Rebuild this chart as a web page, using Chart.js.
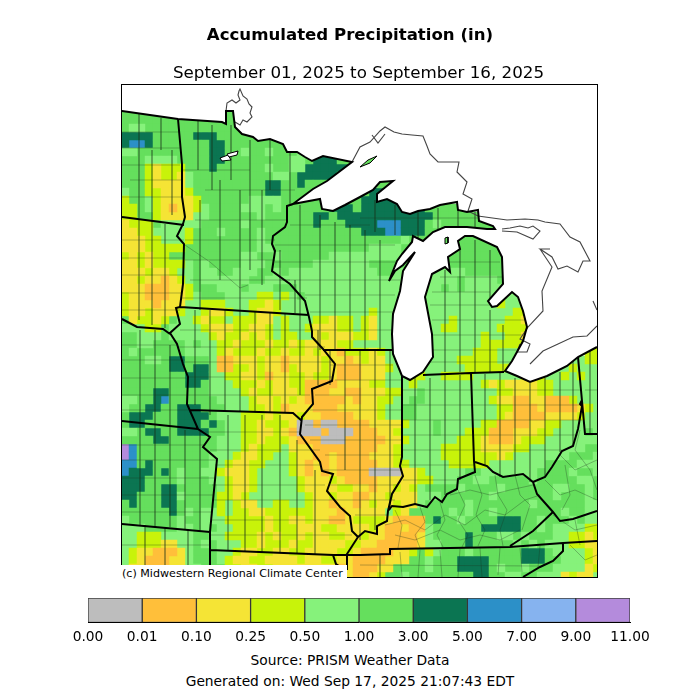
<!DOCTYPE html>
<html>
<head>
<meta charset="utf-8">
<title>Accumulated Precipitation (in)</title>
<script src="https://cdn.jsdelivr.net/npm/chart.js@4/dist/chart.umd.min.js"></script>
<style>
  html, body { margin: 0; padding: 0; background: #fff; }
  #page { position: relative; width: 700px; height: 700px; overflow: hidden; font-family: "DejaVu Sans", sans-serif; color: #000; }
  canvas { position: absolute; left: 0; }
  .txt { position: absolute; white-space: nowrap; line-height: 1; text-align: center; }
</style>
</head>
<body>
<div id="page">
  <canvas id="mapChart" width="700" height="590" style="top:0"></canvas>
  <canvas id="barChart" width="700" height="60" style="top:590px"></canvas>
  <div class="txt" style="left:0;width:700px;top:27px;font-size:16.6px;font-weight:bold">Accumulated Precipitation (in)</div>
  <div class="txt" style="left:0;width:717px;top:64px;font-size:16.7px">September 01, 2025 to September 16, 2025</div>
  <div class="txt" style="left:121px;top:565px;height:15px;width:225px;padding-left:1px;background:#fff;font-size:11.1px;line-height:17px;text-align:left">(c) Midwestern Regional Climate Center</div>
  <div class="txt" style="left:0;width:700px;top:654px;font-size:13.8px">Source: PRISM Weather Data</div>
  <div class="txt" style="left:0;width:700px;top:675px;font-size:13.8px">Generated on: Wed Sep 17, 2025 21:07:43 EDT</div>
</div>
<script>
// Colour bar classes (inches)
const TICK_LABELS = ['0.00', '0.01', '0.10', '0.25', '0.50', '1.00', '3.00', '5.00', '7.00', '9.00', '11.00'];
const CLASS_COLORS = ['#bdbdbd', '#ffbf3a', '#f5e435', '#c8f30a', '#86f27b', '#65df5d', '#0b7552', '#2c90c8', '#86b3ef', '#b48bdc'];
const CLASS_KEYS = ['g', 'o', 'y', 'l', 'a', 'b', 'd', 'u', 's', 'p'];
const CLASS_BINS = [1, 1, 1, 1, 1, 1, 1, 1, 1, 1];

// Precipitation class per map cell. One row every 8 map units.
const CELL_ROWS = [
  ".......... .......... .......... .......... .......... ..........",
  ".......... .......... .......... .......... .......... ..........",
  ".......... .......... .......... .......... .......... ..........",
  "bbbbbbbbbb bbbbbbbbbb .......... .......... .......... ..........",
  "bbbbbbbbbb bbbbbbbbbb bb........ .......... .......... ..........",
  "baabbbbbbb bbbbbbbbbb bbbb...... .......... .......... ..........",
  "ddddbbbbbd ddbbbbbbbb bbbbbb.... .......... .......... ..........",
  "duudbbbbbb bddbbbbbbb bbbbbbbb.. .......... .......... ..........",
  "aabbbbbbbb bddbbabbab bbabbbbbbb b......... .......... ..........",
  "bbbaaaabbb bddbbbbbbb baabdddbbb .......... .......... ..........",
  "bbblylllbb bdbbbbbbab baaddddddb .......... .......... ..........",
  "bbblyllyab bbbbbbbbba abdddddbbb .......... .......... ..........",
  "bbblyyyyab bbbbbbbbdd bbdbbbbbbb ..bbbb.... .......... ..........",
  "abbllyyylb bbbbbbbbdd bbbbbbbbbb bddbb..... .......... ..........",
  "lbbalyyyyl bbbbbbaaaa bbbbbbbbbb dddddddddd .......... ..........",
  "llbalyoyyl abbbbaaaba bbbbbbdddb ddddddddbb bbbb...... ..........",
  "llbblyyyya abbbbbbabb bbbbddbddd dddddddddb bbbbbbbbbb bbb.......",
  "ylllbaaaaa bbbbbabbbb bbbbdbbbdd dduuudddba bbbbbbbbbb bbb.......",
  "yyllaaaalb bbabbbbabb bbbbbbbbbb ddduudddbb bbbbbbbbbb ..........",
  "yyyllaaalb bbbbbbbabb bbbbbbbbbb bbbbbabbbb bbbbbbbbbb ..........",
  "yyylllllbb bbbbbbbaab bbbbbbbbbb baaaabbbbb bbbbbbbbbb ..........",
  "lylyllbbbb bbbbbaabba bbbbbbaaaa aaaaabbbaa abbbbbbbbb b.........",
  "yylyllllab abbbbaaabb bbbbaaaaaa abbbbbbbaa abbbbbbbbb b.........",
  "yyylyylaab aabbaaabba baaaaaaaaa aabbaaaaaa aaabbbbbbb b.........",
  "yylyyoylab aaaaaabbaa aaaaaaaaaa aaaaaaaaaa aabaaaabaa a.........",
  "yyyoooyylb bbaaabaaab bbaaaaaaaa aaaaaaaaaa babaaaaaaa aa........",
  "lyyoooyyla bbbaaaalla labaaaaaaa aaaaalaaaa aaaaaaaaaa aa........",
  "lyyyoyyyaa lllaaallyl aaaaaaaaaa aaaaaaaaaa aaaaaaalaa aaa.......",
  "lyylyyylaa lyylaalyyl aaaaaaaaaa alaaaaaaaa aaaaaaaaal la........",
  "byllylbaal yllalllyya laaallylla lyaaaaaaaa alaaaaaall yll.......",
  "aaallbaaaa lyyyllyyla laalyyylla lyaaaaaaaa llaaaaalll ll........",
  "bbaaabaaaa alyllylyla llaaylyyyl lyaaaaaaaa aaaaalaall yl........",
  "bbaabbbbab aallylllyl lylyyyylla aaaaaaaaaa aaaaalllll lll.......",
  "babbbbbbaa aalylllyll yllylyyoll lylaa...aa aaaalllaaa l.......ll",
  "bbbaabddbb baooyyylyy oyyyylyyoy lyyaabaaaa aalllllaaa aaaaaaaall",
  "bbbbbbddbd daoollylyy olyyylyooo yyylaaaaaa aaalllllla aaaaaalaaa",
  "bbbbbbbbdd daallyyloy yllyllyooo yyyaaallaa llllaaaaaa lalaalalaa",
  "bbbbbbbbdd baaalllyly yllooooyyy yllaaalaaa aaaaalylyy yyllaaaaaa",
  "bbbbddbbbb baaaalylly yyloooyyoo yyyllaabaa aaaaaaally yyllaaaaaa",
  "aabbdubbbb bbaaaalyyl ylyoooooyo yyllaabbaa aaaaaalyyo oyyooolaaa",
  "abbddbbddd bbbaaallyl oyyyoooyyy yylaabbaaa aaaaaaallo ooyooooyla",
  "bdddbbbddd dbaaalllyl yylyyooooy yylaabbaaa aaaaaaalyo oooyyyylaa",
  "bddbbbbddd bdbaallyll lyggoggooo oyyyylaaab aaaaallooo oyyllaaaaa",
  "aabddbbddd dbbaallyyl yogggogggo ooyylaaaab aaallloooy yyllaaaaba",
  "bbbbddbbbb bbaaallyll lyooogggoo oooyylaaaa aalllyoooy lllaaaaaaa",
  "pubbbbbbbb bbaaalylll ayyyoooooo ooyylaaaaa lllllyyyyl laaaaaaabb",
  "pubbbbbbbb baaalyylla alyyooyooo oyyylaaaaa lllllllyla aaaaaabbba",
  "uubdbbbbbb baalyyllaa alyoyoyooo ooyyllaaaa alllllaaaa aaabbbbaaa",
  "udddbdbabb aalyyylaaa alyoyoyooo oggggyylaa aaabbaaaaa aabbbbabba",
  "dddbbbbabb baalyylaaa aalyyylyoo ooyyyyylla aabbaabbbb babbbbbaab",
  "dddbbddbbb bbalyylaaa aalyyyylly yoyylylabb bbabbbbabb bbbbaabbab",
  "ddbbbddabb bbllylaaaa aaalyylyyo oyylyyyaaa bbbbbbabbb bbbbabbbab",
  "bdbbbddbbb bblalyyaal laalyyoyyo ylyylyyabb bbbabbbbbb babbbbbbaa",
  "bbbbbbdbab aalallyyll llllyyyoyy yyyalybbbb bababbabbb bbbbbabbaa",
  "abbbbbbabb aaalllllyl lyylyyooyl lllyoooobd bbabbbbddd bbabbbabaa",
  "aaabbbbaab abaallllyl llyyyllyyy ylyooyooab bbbbbddddd bbabaaaall",
  "aalllaaaab baallllyly llylyyllyy lyyooooyab bbbdbbbaab abbbaallyl",
  "aalllyyaab abaaallyll lyllyyyyll yyoooooyaa bbbdbbbbba babaaallyy",
  "alyyoooyab bbaalyylly yllyyyylly ooooyylbla bbbabbbbbb dddbaaaaly",
  "alyoooyyab bbalyyllyy yylyyllyyo oooyyybbab bbddddbbbb dddbbaaaly",
  "ayyoooyyaa bbbllyylly yyyyyyyoyo ooyybbbbab bbddddbabb abbbaaaayl",
  "ayyoooyyaa bbbllyylly yyyyyyyoyo oylbbabbbb bbbbddbbaa bbaaaylyya"
];

// Shoreline of the Great Lakes and the Canadian border, in map units
const COAST = [[597,347],[578,357],[567,366],[547,376],[530,382],[517,376],[505,371],[512,361],[523,341],[527,327],[523,311],[518,297],[512,292],[497,306],[492,307],[488,301],[503,284],[502,257],[497,247],[473,236],[465,236],[458,241],[460,249],[448,257],[450,272],[445,267],[432,274],[425,297],[432,334],[433,357],[423,372],[410,380],[402,376],[393,354],[392,334],[393,314],[400,291],[403,271],[415,252],[403,265],[395,271],[389,281],[397,261],[402,254],[412,242],[413,236],[423,241],[433,232],[445,227],[467,227],[487,229],[495,229],[493,226],[479,221],[478,210],[467,212],[458,210],[457,202],[440,205],[430,209],[418,211],[410,214],[402,212],[397,204],[387,199],[377,202],[377,194],[393,181],[380,182],[373,190],[360,197],[345,205],[333,211],[322,209],[320,199],[293,204],[313,189],[327,181],[352,162],[323,156],[312,161],[305,157],[297,152],[287,152],[283,144],[270,139],[258,141],[253,137],[242,134],[235,127],[233,111],[226,111],[226,124],[222,122],[178,119],[122,111],[121,111]];
const OUTSIDE_CORNERS = [[121,84],[597,84]];

const STATE_LINES = [
  [[178,119],[182,164],[182,197],[185,217],[183,224],[177,236],[184,244],[183,284],[180,307],[176,308],[180,324],[170,333],[177,344],[183,364],[188,377],[187,404],[198,429],[210,437],[203,447],[217,459],[210,532],[210,577]],
  [[122,217],[184,225]],
  [[122,319],[137,327],[163,329],[170,334]],
  [[180,307],[309,315]],
  [[293,204],[287,206],[287,222],[285,227],[273,236],[272,244],[275,251],[272,271],[290,284],[305,301],[309,317],[312,331],[312,337],[323,349],[335,364],[332,381],[312,389],[313,404],[302,417],[300,434],[320,462],[322,471],[333,474],[327,491],[340,507],[350,516],[352,531],[358,537],[347,554],[347,570]],
  [[122,421],[198,429]],
  [[190,410],[293,413],[302,421]],
  [[122,524],[210,532]],
  [[210,550],[333,555],[336,564],[345,570]],
  [[323,350],[393,350]],
  [[402,376],[402,457],[400,466],[403,476],[392,494],[388,511],[387,521],[377,526],[377,534],[365,531],[358,537]],
  [[423,375],[471,373],[504,372]],
  [[471,373],[474,461],[475,472],[458,479],[457,489],[447,494],[442,502],[435,497],[427,507],[415,504],[403,507],[392,506],[388,511]],
  [[475,462],[487,466],[493,472],[503,477],[523,474],[533,482],[545,477],[552,467],[562,451],[573,446],[578,429],[582,406],[580,404],[582,400]],
  [[578,357],[585,434],[597,434]],
  [[533,482],[537,494],[553,512],[560,521],[573,519],[597,511]],
  [[553,512],[533,531],[510,546]],
  [[360,555],[390,554],[390,549],[510,547],[563,543],[597,541]],
  [[563,543],[563,551],[553,561],[540,567],[523,577]],
  [[333,555],[360,555]]
];

const CANADA_LINES = [
  [[226,111],[227,103],[232,100],[236,103],[240,100],[238,95],[239,91],[240,89],[243,96],[247,99],[249,104],[252,107],[250,113],[252,117],[247,122],[243,120],[240,125],[235,122]],
  [[352,162],[360,147],[370,142],[380,131],[385,127],[394,132],[402,134],[412,135],[423,136],[427,146],[430,154],[438,162],[459,162],[457,172],[467,182],[463,194],[472,199],[468,211],[478,216],[507,220],[525,219],[538,220],[545,222],[560,224],[570,237],[580,242],[590,261],[583,261],[578,272],[567,266],[558,269],[552,257],[540,249],[550,249]],
  [[540,249],[552,267],[542,291],[543,311],[528,327],[520,339],[530,344],[527,352],[517,352],[520,344]],
  [[530,364],[543,351],[573,337],[587,336],[597,326]],
  [[593,301],[597,310]],
  [[502,229],[510,228],[520,226],[528,228],[533,226],[540,231],[533,239],[517,232],[502,231]],
  [[372,135],[378,143],[385,134]]
];

const LAKE_SHAPES = [
  [[227,154],[238,151],[237,155],[229,157]],
  [[220,158],[228,155],[231,160],[222,161]]
];
const ISLAND_SHAPES = [
  [[360,167],[368,160],[377,156],[370,163]],
  [[445,238],[448,237],[448,243],[445,244]]
];

// County lines
const COUNTY_LINES = [
  // Dakotas
  [139,113,139,218],[161,118,161,150],[152,150,152,325],[172,150,172,215],[139,219,139,320],[165,224,165,328],
  [122,132,180,132],[122,148,180,148],[122,165,180,165],[130,180,182,180],[122,197,182,197],
  [122,240,184,240],[122,258,184,258],[122,275,184,275],[122,293,182,293],[122,310,180,310],
  // Minnesota
  [198,120,198,170],[212,125,212,190],[231,125,231,180],[250,140,250,270],[270,140,270,190],[290,140,290,204],[220,180,220,280],[200,200,200,310],[240,190,240,310],[262,190,262,285],[280,250,280,310],[295,280,295,313],
  [183,170,250,170],[205,190,295,190],[195,220,287,220],[185,240,275,240],[185,260,275,260],[190,280,290,280],[182,298,307,298],
  [185,245,210,262,240,288,248,285],
  // Wisconsin and Upper Michigan
  [300,205,300,315],[320,215,320,350],[335,222,335,350],[350,225,350,350],[365,230,365,350],[380,240,380,350],
  [290,225,370,225],[275,245,395,245],[275,262,395,262],[280,280,400,280],[305,295,395,295],[310,312,395,312],[312,330,393,330],
  [375,200,375,232],[395,205,395,235],[418,210,418,240],[438,208,438,232],[458,205,458,228],[475,212,475,228],[360,218,480,218],
  // Lower Michigan
  [445,270,445,372],[460,250,460,372],[475,240,475,373],[490,250,490,300],[490,310,490,372],[503,325,503,372],
  [450,262,500,262],[440,277,503,277],[432,292,490,292],[430,305,495,305],[432,320,525,320],[433,335,525,335],[433,350,520,350],[430,362,510,362],
  // Iowa
  [195,310,195,405],[210,310,210,415],[225,310,225,412],[240,311,240,412],[255,312,255,412],[270,313,270,412],[285,313,285,413],[300,314,300,395],[318,330,318,385],
  [180,330,312,330],[178,347,325,347],[185,362,335,362],[188,377,332,377],[187,395,310,395],
  // Nebraska, Kansas, Oklahoma
  [140,330,140,420],[155,330,155,425],[170,345,170,425],[122,345,178,345],[122,360,185,360],[122,378,187,378],[122,395,188,395],[122,410,188,410],
  [140,420,140,525],[155,425,155,527],[170,427,170,527],[185,430,185,530],[200,430,200,530],[122,445,205,445],[122,460,217,460],[122,478,215,478],[122,495,214,495],[122,512,213,512],
  [145,525,145,565],[165,528,165,565],[188,530,188,565],[122,545,210,545],
  // Missouri
  [228,415,228,550],[245,415,245,552],[262,415,262,552],[280,415,280,552],[297,440,297,553],[315,470,315,555],
  [205,432,300,432],[210,450,320,450],[215,465,320,465],[212,485,325,485],[212,500,340,500],[212,520,345,520],[210,535,352,535],
  // Illinois
  [330,350,330,385],[345,350,345,470],[360,350,360,540],[375,350,375,530],[390,350,390,510],
  [330,365,393,365],[335,380,402,380],[315,395,402,395],[310,410,402,410],[305,425,402,425],[310,440,402,440],[325,455,402,455],[322,470,402,470],[330,485,398,485],[340,500,395,500],[355,515,388,515],
  // Indiana
  [415,377,415,505],[430,378,430,500],[445,375,445,495],[460,375,460,480],
  [402,390,472,390],[402,405,472,405],[402,420,472,420],[402,435,472,435],[402,450,473,450],[402,465,474,465],[403,480,458,480],
  // Ohio
  [485,374,485,466],[500,373,500,477],[515,378,515,474],[530,383,530,482],[545,378,545,477],[560,372,560,452],[573,360,573,445],
  [472,390,582,390],[472,405,582,405],[472,420,582,420],[472,435,578,435],[473,450,562,450],
  // Kentucky
  [395,510,402,525,398,548],[420,507,425,522,415,535,420,548],[440,502,445,520,437,535,443,547],[458,490,465,505,458,520,468,535,462,547],[475,475,482,495,476,515,485,530,478,546],[495,475,498,495,507,510,500,530,503,546],[515,475,520,495,530,505,522,530],
  [385,525,405,520,425,530,445,515,465,525,485,510,505,515,525,500,540,495],[395,535,415,540,440,530,460,540,480,535,500,540,520,530],[450,495,470,490,490,495,510,490,533,485],
  // Tennessee
  [380,555,380,577],[400,552,402,577],[420,550,418,577],[440,550,442,577],[460,549,458,577],[480,548,482,577],[500,548,498,575],[520,548,522,572],[540,546,538,567],[360,565,540,566],
  // West Virginia, Virginia, Pennsylvania
  [545,480,560,495,575,490,597,500],[560,455,575,470,597,460],[580,430,575,450,590,470,597,490],[553,515,575,530,597,525],[570,545,585,560,597,555],[575,520,580,545],[565,465,570,495,562,510],
  [590,347,590,434],[585,390,597,390]
];

const toPoints = pairs => pairs.map(p => ({ x: p[0], y: p[1] }));

// several polylines in one dataset, null points break the line
const joinLines = lines => {
  const pts = [];
  lines.forEach(line => {
    toPoints(line).forEach(p => pts.push(p));
    pts.push({ x: null, y: null });
  });
  return pts;
};

const flatToPairs = flat => {
  const pairs = [];
  for (let i = 0; i < flat.length; i += 2) pairs.push([flat[i], flat[i + 1]]);
  return pairs;
};

const lineSet = (data, color, width, order, extra) => Object.assign({
  data: data,
  showLine: true,
  borderColor: color,
  borderWidth: width,
  pointRadius: 0,
  tension: 0,
  fill: false,
  spanGaps: false,
  order: order
}, extra || {});

const datasets = [];

// Precipitation cells, one dataset per class
CLASS_KEYS.forEach((key, k) => {
  const pts = [];
  CELL_ROWS.forEach((row, r) => {
    row.replace(/ /g, '').split('').forEach((c, j) => {
      if (c === key) pts.push({ x: 125 + j * 8, y: 88 + r * 8 });
    });
  });
  datasets.push({
    data: pts,
    pointStyle: 'rect',
    pointRadius: 6,
    pointBorderWidth: 0,
    backgroundColor: CLASS_COLORS[k],
    order: 50
  });
});

datasets.push(lineSet(joinLines(COUNTY_LINES.map(flatToPairs)), 'rgba(30,50,30,0.42)', 0.75, 40));
datasets.push(lineSet(toPoints(OUTSIDE_CORNERS.concat(COAST)), 'rgba(0,0,0,0)', 0, 30, { fill: 'shape', backgroundColor: '#fff' }));
LAKE_SHAPES.forEach(s => datasets.push(lineSet(toPoints(s.concat([s[0]])), '#000', 1, 25, { fill: 'shape', backgroundColor: '#fff' })));
ISLAND_SHAPES.forEach(s => datasets.push(lineSet(toPoints(s.concat([s[0]])), '#000', 1, 25, { fill: 'shape', backgroundColor: CLASS_COLORS[5] })));
datasets.push(lineSet(joinLines(CANADA_LINES), '#444', 1.1, 20));
datasets.push(lineSet(toPoints(COAST), '#000', 2, 10));
datasets.push(lineSet(joinLines(STATE_LINES), '#000', 2, 10));

const framePlugin = {
  id: 'frame',
  afterDraw(chart) {
    const a = chart.chartArea, ctx = chart.ctx;
    ctx.save();
    ctx.strokeStyle = '#000';
    ctx.lineWidth = 1;
    ctx.strokeRect(a.left + 0.5, a.top + 0.5, a.width, a.height);
    ctx.restore();
  }
};

new Chart(document.getElementById('mapChart'), {
  type: 'scatter',
  data: { datasets: datasets },
  plugins: [framePlugin],
  options: {
    responsive: false,
    animation: false,
    layout: { padding: { left: 121, right: 103, top: 84, bottom: 13 } },
    plugins: { legend: { display: false }, tooltip: { enabled: false } },
    scales: {
      x: { type: 'linear', min: 121, max: 597, display: false },
      y: { type: 'linear', min: 84, max: 577, reverse: true, display: false }
    }
  }
});

// Colour bar
new Chart(document.getElementById('barChart'), {
  type: 'bar',
  data: {
    labels: ['in'],
    datasets: CLASS_BINS.map((v, i) => ({
      data: [v],
      backgroundColor: CLASS_COLORS[i],
      borderColor: 'rgba(0,0,0,0.75)',
      borderWidth: 1,
      borderSkipped: false,
      barPercentage: 1,
      categoryPercentage: 1
    }))
  },
  options: {
    indexAxis: 'y',
    responsive: false,
    animation: false,
    layout: { padding: { left: 88, right: 70, top: 8, bottom: 3 } },
    plugins: { legend: { display: false }, tooltip: { enabled: false } },
    scales: {
      y: { stacked: true, display: false },
      x: {
        stacked: true,
        min: 0,
        max: 10,
        grid: { display: false, drawTicks: true, tickLength: 4, tickColor: '#000' },
        border: { color: '#000', width: 1 },
        afterBuildTicks: axis => { axis.ticks = TICK_LABELS.map((t, i) => ({ value: i })); },
        ticks: {
          autoSkip: false,
          maxRotation: 0,
          color: '#000',
          padding: 3,
          font: { family: '"DejaVu Sans"', size: 13.8 },
          callback: (v, i) => TICK_LABELS[i]
        }
      }
    }
  }
});
</script>
</body>
</html>
